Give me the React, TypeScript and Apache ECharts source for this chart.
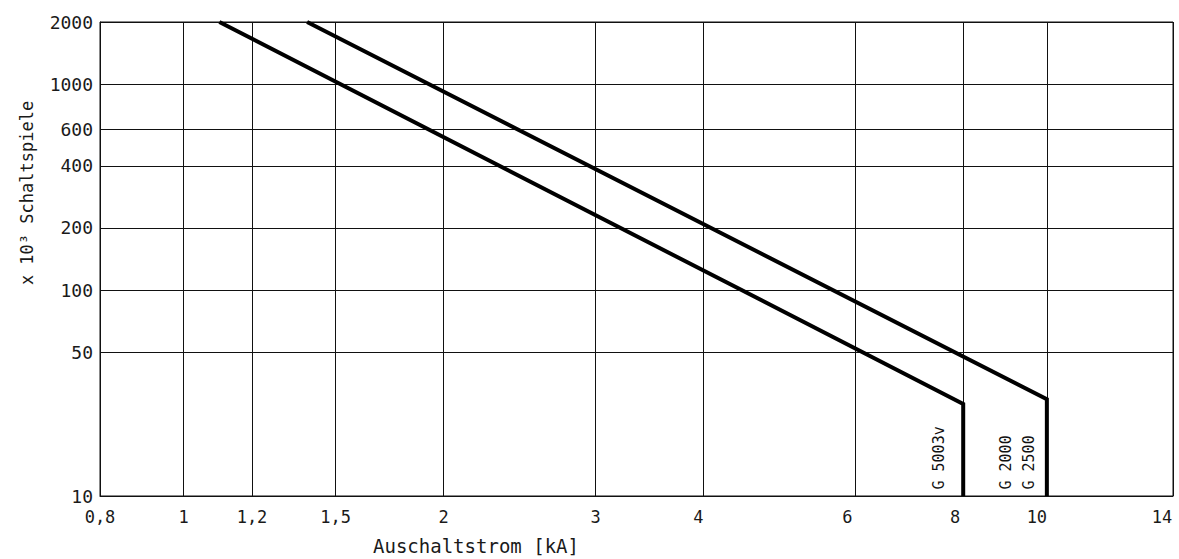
import React, { useEffect, useRef } from 'react';
import * as echarts from 'echarts';

// ---- data ----
const X_TICKS = [0.8, 1, 1.2, 1.5, 2, 3, 4, 6, 8, 10, 14];
const Y_TICKS = [10, 50, 100, 200, 400, 600, 1000, 2000];
const CURVE_G5003V = [
  [1.1, 2000],
  [8.0, 28],
  [8.0, 10],
];
const CURVE_G2000_G2500 = [
  [1.39, 2000],
  [10.0, 29.5],
  [10.0, 10],
];
const SERIES_NAMES = ['G 5003v', 'G 2000 / G 2500'];
const LABEL_G5003V = 'G 5003v';
const LABEL_G2000 = 'G 2000';
const LABEL_G2500 = 'G 2500';
const X_TITLE = 'Auschaltstrom [kA]';
const Y_TITLE = 'x 10³ Schaltspiele';

// ---- style ----
const FONT = '"DejaVu Sans Mono", "DejaVu Sans", monospace';
const INK = '#111';
const TEXT = '#1a1a1a';

const fmt = (v: number) => String(Number(Number(v).toPrecision(6))).replace('.', ',');

// small leftward nudges of some x tick labels (as in the reference drawing)
const xNudge = (v: number) => {
  if (v >= 14) return 'n11';
  if (v >= 10) return 'n10';
  if (v >= 6) return 'n8';
  if (v >= 4) return 'n5';
  return 'n0';
};
const richX: any = {};
[0, 5, 8, 10, 11].forEach((n) => {
  richX['n' + n] = {
    fontFamily: FONT,
    fontSize: 17,
    color: TEXT,
    padding: [0, 2 * n, 0, 0],
  };
});

const curveLabel = (text: string, dx: number) => ({
  show: true,
  formatter: text,
  rotate: 90,
  position: [dx, -6],
  align: 'left',
  verticalAlign: 'middle',
  fontFamily: FONT,
  fontSize: 15,
  color: INK,
});

export default function App() {
  const ref = useRef<HTMLDivElement>(null);

  useEffect(() => {
    if (!ref.current) return;
    const chart = echarts.init(ref.current, null, { renderer: 'svg' });
    const option: any = {
      animation: false,
      backgroundColor: '#fff',
      grid: {
        left: 100,
        right: 6,
        top: 22,
        bottom: 63,
        show: true,
        borderColor: INK,
        borderWidth: 1,
        backgroundColor: 'transparent',
      },
      xAxis: {
        type: 'log',
        logBase: 10,
        min: 0.8,
        max: 14,
        axisLine: { show: true, lineStyle: { color: INK, width: 1 } },
        axisTick: { show: false, customValues: X_TICKS },
        axisLabel: {
          customValues: X_TICKS,
          formatter: (v: number) => '{' + xNudge(v) + '|' + fmt(v) + '}',
          rich: richX,
          margin: 12,
          color: TEXT,
          fontSize: 17,
          fontFamily: FONT,
          showMinLabel: true,
          showMaxLabel: true,
        },
        splitLine: { show: true, lineStyle: { color: INK, width: 1 } },
      },
      yAxis: {
        type: 'log',
        logBase: 10,
        min: 10,
        max: 2000,
        axisLine: { show: true, lineStyle: { color: INK, width: 1 } },
        axisTick: { show: false, customValues: Y_TICKS },
        axisLabel: {
          customValues: Y_TICKS,
          formatter: (v: number) => fmt(v),
          margin: 7,
          color: TEXT,
          fontSize: 18,
          fontFamily: FONT,
          showMinLabel: true,
          showMaxLabel: true,
        },
        splitLine: { show: true, lineStyle: { color: INK, width: 1 } },
      },
      series: [
        {
          name: SERIES_NAMES[0],
          type: 'line',
          data: CURVE_G5003V,
          symbol: 'none',
          lineStyle: { color: '#000', width: 4, join: 'miter' },
          markPoint: {
            symbol: 'rect',
            symbolSize: 1,
            itemStyle: { color: 'rgba(0,0,0,0)' },
            data: [{ coord: CURVE_G5003V[2], label: curveLabel(LABEL_G5003V, -24) }],
          },
        },
        {
          name: SERIES_NAMES[1],
          type: 'line',
          data: CURVE_G2000_G2500,
          symbol: 'none',
          lineStyle: { color: '#000', width: 4, join: 'miter' },
          markPoint: {
            symbol: 'rect',
            symbolSize: 1,
            itemStyle: { color: 'rgba(0,0,0,0)' },
            data: [
              { coord: CURVE_G2000_G2500[2], label: curveLabel(LABEL_G2000, -40) },
              { coord: CURVE_G2000_G2500[2], label: curveLabel(LABEL_G2500, -17) },
            ],
          },
        },
      ],
      graphic: [
        {
          type: 'text',
          x: 476,
          y: 546,
          style: {
            text: X_TITLE,
            align: 'center',
            verticalAlign: 'middle',
            fontFamily: FONT,
            fontSize: 19,
            fill: TEXT,
          },
        },
        {
          type: 'text',
          x: 27,
          y: 193,
          rotation: Math.PI / 2,
          style: {
            text: Y_TITLE,
            align: 'center',
            verticalAlign: 'middle',
            fontFamily: FONT,
            fontSize: 17,
            fill: TEXT,
          },
        },
      ],
    };
    chart.setOption(option);
    return () => chart.dispose();
  }, []);

  return (
    <div
      ref={ref}
      style={{ position: 'fixed', left: 0, top: 0, width: 1179, height: 559, background: '#fff' }}
    />
  );
}
